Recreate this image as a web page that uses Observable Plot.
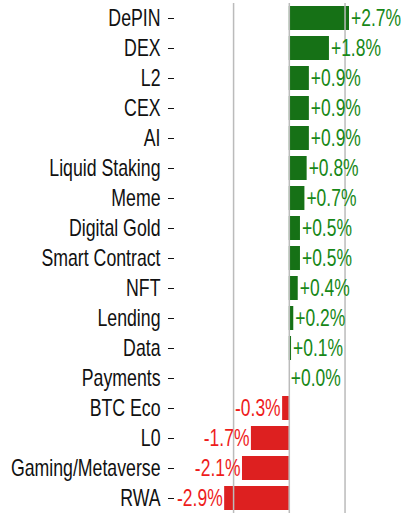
<!DOCTYPE html>
<html>
<head>
<meta charset="utf-8">
<script src="https://cdn.jsdelivr.net/npm/d3@7"></script>
<script src="https://cdn.jsdelivr.net/npm/@observablehq/plot@0.6"></script>
<style>
  html, body { margin: 0; padding: 0; background: #fff; }
</style>
</head>
<body>
<div id="chart"></div>
<script>
const categories = ["DePIN", "DEX", "L2", "CEX", "AI", "Liquid Staking", "Meme", "Digital Gold", "Smart Contract", "NFT", "Lending", "Data", "Payments", "BTC Eco", "L0", "Gaming/Metaverse", "RWA"];
const values = [2.7, 1.8, 0.9, 0.9, 0.9, 0.8, 0.7, 0.5, 0.5, 0.4, 0.2, 0.1, 0.0, -0.3, -1.7, -2.1, -2.9];
const gridTicks = [-2.5, 0, 2.5];

const data = categories.map((c, i) => ({category: c, value: values[i]}));
const fmt = v => (v >= 0 ? "+" : "") + v.toFixed(1) + "%";
const pos = data.filter(d => d.value >= 0);
const neg = data.filter(d => d.value < 0);

const FONT = "'Liberation Sans', Arial, sans-serif";
const chart = Plot.plot({
  width: 401,
  height: 513,
  marginLeft: 174,
  marginRight: 52,
  marginTop: 3,
  marginBottom: 0,
  style: {fontSize: "23px", fontFamily: FONT, background: "#fff"},
  x: {domain: [-5.15, 2.7], axis: null},
  y: {domain: categories, paddingInner: 0.2, paddingOuter: 0.1, label: null},
  marks: [
    Plot.barX(data, {x: "value", y: "category", fill: d => d.value >= 0 ? "#167116" : "#dd2020"}),
    Plot.ruleX(gridTicks, {stroke: "#bbbbbb", strokeWidth: 1.5}),
    Plot.axisY({tickSize: 6, tickPadding: 8, fontSize: 23, fill: "#111", stroke: "#111", label: null}),
    Plot.text(pos, {x: "value", y: "category", text: d => fmt(d.value), textAnchor: "start", dx: 1.5, fill: "#178817", fontSize: 23}),
    Plot.text(neg, {x: "value", y: "category", text: d => fmt(d.value), textAnchor: "end", dx: -2, fill: "#ee1c1c", fontSize: 23})
  ]
});
// condense glyphs horizontally (narrow typeface look), scaling about each text's anchor
chart.querySelectorAll("g[aria-label]").forEach(g => {
  const isValue = g.getAttribute("aria-label") === "text";
  const sx = isValue ? 0.76 : 0.77;
  g.querySelectorAll("text").forEach(t => {
    const tr = t.getAttribute("transform") || "";
    t.setAttribute("transform", (tr + ` scale(${sx},1)`).trim());
  });
});
document.getElementById("chart").appendChild(chart);
</script>
</body>
</html>
